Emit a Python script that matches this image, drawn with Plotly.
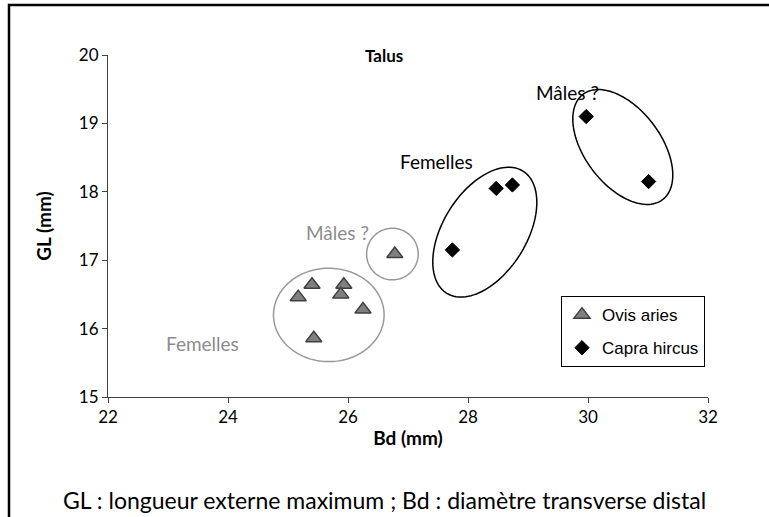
import numpy as np
import plotly.graph_objects as go

# Talus measurements (mm)
ovis_bd = [25.17, 25.40, 25.93, 25.88, 26.25, 25.43, 26.78]
ovis_gl = [16.46, 16.64, 16.64, 16.50, 16.28, 15.86, 17.09]
capra_bd = [27.74, 28.47, 28.74, 29.97, 31.01]
capra_gl = [17.15, 18.05, 18.10, 19.10, 18.15]

x_ticks = [22, 24, 26, 28, 30, 32]
y_ticks = [15, 16, 17, 18, 19, 20]

# plot area in pixels: 600 x 342 for 10 x 5 mm
PX_X = 60.0
PX_Y = 68.4

FONT = "Lato"
GREY = "#8c8c8c"


def ellipse_path(cx, cy, a_px, b_px, angle_deg=0.0, n=120):
    # ellipse drawn in pixel space, converted back to data units
    t = np.linspace(0, 2 * np.pi, n)
    th = np.radians(angle_deg)
    px = a_px * np.cos(t) * np.cos(th) - b_px * np.sin(t) * np.sin(th)
    py = a_px * np.cos(t) * np.sin(th) + b_px * np.sin(t) * np.cos(th)
    xs = cx + px / PX_X
    ys = cy + py / PX_Y
    pts = [f"{x:.4f},{y:.4f}" for x, y in zip(xs, ys)]
    return "M" + " L".join(pts) + " Z"


fig = go.Figure()

fig.add_trace(go.Scatter(
    x=ovis_bd, y=ovis_gl, mode="markers", name="Ovis aries",
    legendgroup="a",
    marker=dict(symbol="triangle-up", size=14, color="#808080",
                line=dict(color="#404040", width=1.5)),
))
fig.add_trace(go.Scatter(
    x=capra_bd, y=capra_gl, mode="markers", name="Capra hircus",
    legendgroup="b",
    marker=dict(symbol="diamond", size=11, color="black",
                line=dict(color="black", width=1)),
))

shapes = [
    # grey groups (Ovis)
    dict(type="path", xref="x", yref="y",
         path=ellipse_path(25.68, 16.20, 55.3, 46.7),
         line=dict(color="#999999", width=1.5)),
    dict(type="path", xref="x", yref="y",
         path=ellipse_path(26.74, 17.09, 25.8, 25.8),
         line=dict(color="#999999", width=1.5)),
    # black groups (Capra)
    dict(type="path", xref="x", yref="y",
         path=ellipse_path(28.28, 17.41, 72, 41.7, 58),
         line=dict(color="black", width=1.5)),
    dict(type="path", xref="x", yref="y",
         path=ellipse_path(30.58, 18.655, 66, 38, -53),
         line=dict(color="black", width=1.5)),
    # outer frame
    dict(type="rect", xref="paper", yref="paper",
         x0=-0.165, x1=1.3, y0=-0.6, y1=1.146,
         line=dict(color="black", width=2.5)),
]

annotations = [
    dict(x=26.6, y=20, text="<b>Talus</b>", showarrow=False,
         font=dict(size=17, color="black")),
    dict(x=29.65, y=19.45, text="Mâles ?", showarrow=False,
         font=dict(size=19, color="black")),
    dict(x=27.48, y=18.45, text="Femelles", showarrow=False,
         font=dict(size=19, color="black")),
    dict(x=25.83, y=17.4, text="Mâles ?", showarrow=False,
         font=dict(size=19, color=GREY)),
    dict(x=23.58, y=15.78, text="Femelles", showarrow=False,
         font=dict(size=19, color=GREY)),
    dict(x=0.46, xref="paper", y=-0.301, yref="paper", yanchor="middle",
         text="GL : longueur externe maximum ; Bd : diamètre transverse distal",
         showarrow=False, font=dict(size=23, color="black")),
]

fig.update_layout(
    width=769, height=517,
    margin=dict(l=108, r=61, t=55, b=120),
    paper_bgcolor="white", plot_bgcolor="white",
    font=dict(family=FONT, size=17, color="black"),
    shapes=shapes,
    annotations=annotations,
    legend=dict(
        x=0.755, y=0.295, xanchor="left", yanchor="top",
        bordercolor="black", borderwidth=1, bgcolor="white",
        font=dict(family="Liberation Sans", size=17),
        tracegroupgap=8,
    ),
    xaxis=dict(
        range=[22, 32], tickvals=x_ticks, showgrid=False, zeroline=False,
        showline=True, linecolor="#404040", linewidth=1,
        ticks="outside", ticklen=5, tickcolor="#404040",
        title=dict(text="<b>Bd (mm)</b>", standoff=5, font=dict(size=19)),
    ),
    yaxis=dict(
        range=[15, 20], tickvals=y_ticks, showgrid=False, zeroline=False,
        showline=True, linecolor="#404040", linewidth=1,
        ticks="outside", ticklen=5, tickcolor="#404040",
        title=dict(text="<b>GL (mm)</b>", standoff=22, font=dict(size=19)),
    ),
)

fig.write_html("out.html", config={"displayModeBar": False},
               post_script="document.body.style.margin='0';")
